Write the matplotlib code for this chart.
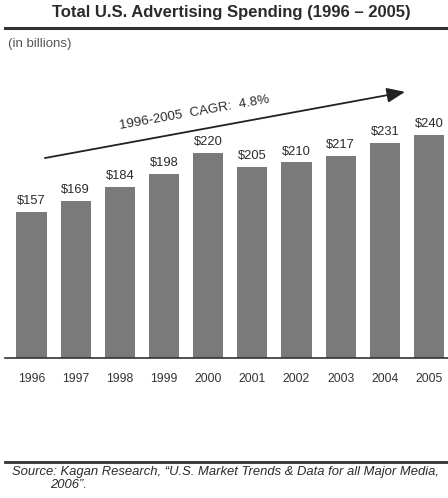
import numpy as np
import matplotlib.pyplot as plt

plt.rcParams['font.family'] = ['Liberation Sans', 'DejaVu Sans']

# Total U.S. advertising spending, $ billions
years = ['1996', '1997', '1998', '1999', '2000', '2001', '2002', '2003', '2004', '2005']
spend = [157, 169, 184, 198, 220, 205, 210, 217, 231, 240]
cagr_text = '1996-2005  CAGR:  4.8%'

W, H = 448, 498
fig = plt.figure(figsize=(W / 100, H / 100), dpi=100)
fig.patch.set_facecolor('white')

txt = '#2b2b2b'
bar_col = '#7a7a7a'

# header
fig.text(231 / W, 1 - 13 / H, 'Total U.S. Advertising Spending (1996 \u2013 2005)',
         ha='center', va='center', fontsize=12, fontweight='bold', color=txt)
fig.add_artist(plt.Line2D([5 / W, 1], [1 - 28.5 / H] * 2, color='#333333', lw=2.2))
fig.text(8 / W, 1 - 44 / H, '(in billions)', ha='left', va='center', fontsize=9.5, color='#555555')

# bar panel
ax = fig.add_axes([5 / W, (H - 358) / H, 443 / W, 298 / H])
x = np.arange(len(years))
bars = ax.bar(x, spend, width=0.68, color=bar_col)
ax.set_xlim(-0.6, 9.43)
ax.set_ylim(0, 320)
for b, v in zip(bars, spend):
    ax.text(b.get_x() + b.get_width() / 2, v + 5, f'${v}', ha='center', va='bottom',
            fontsize=9.3, color=txt)

for s in ['top', 'right', 'left']:
    ax.spines[s].set_visible(False)
ax.spines['bottom'].set_color('#333333')
ax.spines['bottom'].set_linewidth(1.2)
ax.set_yticks([])
ax.set_xticks(x)
ax.set_xticklabels(years, fontsize=8.8, color='#333333')
ax.tick_params(axis='x', length=0, pad=11)

# growth arrow
ax.annotate('', xy=(0.903, 0.893), xytext=(0.09, 0.671), xycoords='axes fraction',
            arrowprops=dict(arrowstyle='-|>,head_length=1.1,head_width=0.45',
                            color='#222222', lw=1.3, shrinkA=0, shrinkB=0))
ax.text(0.427, 0.822, cagr_text, transform=ax.transAxes, ha='center', va='center',
        rotation=10, fontsize=9.6, color=txt)

# footer
fig.add_artist(plt.Line2D([5 / W, 1], [1 - 462 / H] * 2, color='#333333', lw=2.0))
fig.text(12 / W, 1 - 472 / H,
         'Source: Kagan Research, \u201cU.S. Market Trends & Data for all Major Media,',
         ha='left', va='center', fontsize=9.4, style='italic', color=txt)
fig.text(50 / W, 1 - 485 / H, '2006\u201d.', ha='left', va='center', fontsize=9.4,
         style='italic', color=txt)

fig.savefig('out.png', dpi=100)
